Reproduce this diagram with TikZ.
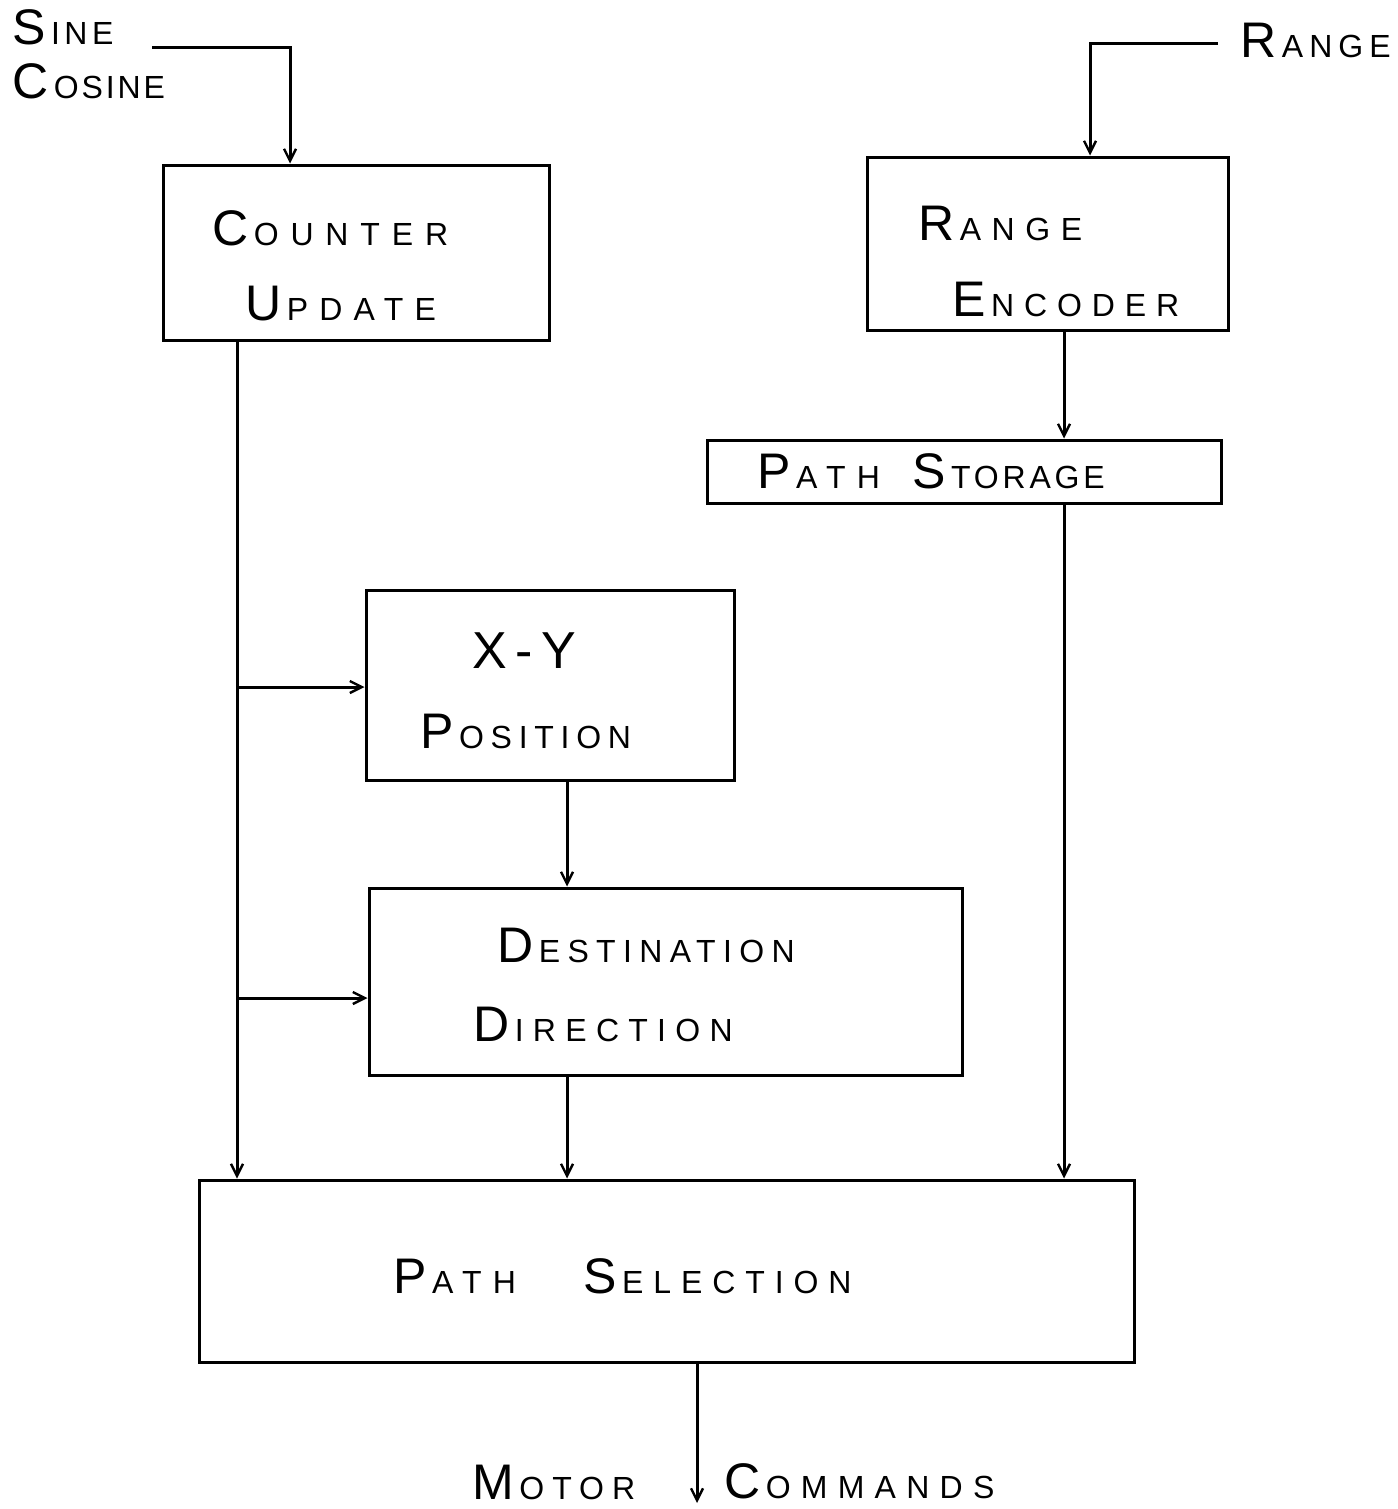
\documentclass[tikz,border=0pt]{standalone}
\usepackage{fontspec}
\setmainfont{Liberation Sans}
\usetikzlibrary{fit,arrows.meta}
\newcommand{\hc}[3][35]{{\fontsize{25}{25}\selectfont #2}{\fontsize{16}{16}\selectfont\addfontfeature{LetterSpace=#1}\,#3}}
\tikzset{
  x=0.5pt, y=-0.5pt,
  box/.style={draw, line width=1.5pt, inner sep=0pt},
  lbl/.style={anchor=base west, inner sep=0pt},
  wire/.style={line width=1.5pt},
  arr/.style={wire, -{Straight Barb[length=6pt,width=6pt,line width=1.2pt]}}
}
\begin{document}
\begin{tikzpicture}
\useasboundingbox (0,0) rectangle (1397,1509);
% boxes
\node[box, fit={(163,165) (549,340)}] (cu) {};
\node[box, fit={(867,157) (1228,330)}] (re) {};
\node[box, fit={(707,440) (1221,503)}] (ps) {};
\node[box, fit={(366,590) (734,780)}] (xy) {};
\node[box, fit={(369,888) (962,1075)}] (dd) {};
\node[box, fit={(199,1180) (1134,1362)}] (sel) {};
% labels
\node[lbl] (tsine) at (12,45) {\hc[14]{S}{INE}};
\node[lbl] (tcos) at (12,98) {\hc[9]{C}{OSINE}};
\node[lbl] (trange) at (1240,58) {\hc[19]{R}{ANGE}};
\node[lbl] (tcount) at (212,245) {\hc[37]{C}{OUNTER}};
\node[lbl] (tupd) at (245,320) {\hc[35]{U}{PDATE}};
\node[lbl] (trange2) at (918,240) {\hc[33]{R}{ANGE}};
\node[lbl] (tenc) at (952,316) {\hc[31]{E}{NCODER}};
\node[lbl] (tpath) at (757,488) {\hc[35]{P}{ATH}};
\node[lbl] (tstor) at (912,488) {\hc[12]{S}{TORAGE}};
\node[lbl] (txy) at (472,668) {{\fontsize{26}{26}\selectfont X\,-\,Y}};
\node[lbl] (tpos) at (420,748) {\hc[21]{P}{OSITION}};
\node[lbl] (tdest) at (497,962) {\hc[23]{D}{ESTINATION}};
\node[lbl] (tdir) at (473,1041) {\hc[29]{D}{IRECTION}};
\node[lbl] (tpath2) at (393,1293) {\hc[35]{P}{ATH}};
\node[lbl] (tsel) at (583,1293) {\hc[31]{S}{ELECTION}};
\node[lbl] (tmotor) at (472,1499) {\hc[25]{M}{OTOR}};
\node[lbl] (tcmd) at (724,1498) {\hc[32]{C}{OMMANDS}};
% free ends and x positions
\coordinate (sinein) at (152,48);
\coordinate (sinecorner) at (290,48);
\coordinate (rangein) at (1218,44);
\coordinate (rangecorner) at (1090,44);
\coordinate (xl) at (237,0);
\coordinate (xr) at (1064,0);
\coordinate (xm) at (567,0);
\coordinate (b1) at (237,687);
\coordinate (b2) at (237,998);
\coordinate (motorout) at (697,1503);
% connectors
\draw[arr] (sinein) -- (sinecorner) -- (cu.north -| sinecorner);
\draw[arr] (rangein) -- (rangecorner) -- (re.north -| rangecorner);
\draw[arr] (re.south -| xr) -- (ps.north -| xr);
\draw[arr] (ps.south -| xr) -- (sel.north -| xr);
\draw[arr] (cu.south -| xl) -- (sel.north -| xl);
\draw[arr] (b1) -- (xy.west |- b1);
\draw[arr] (b2) -- (dd.west |- b2);
\draw[arr] (xy.south -| xm) -- (dd.north -| xm);
\draw[arr] (dd.south -| xm) -- (sel.north -| xm);
\draw[arr] (sel.south -| motorout) -- (motorout);
\end{tikzpicture}
\end{document}
